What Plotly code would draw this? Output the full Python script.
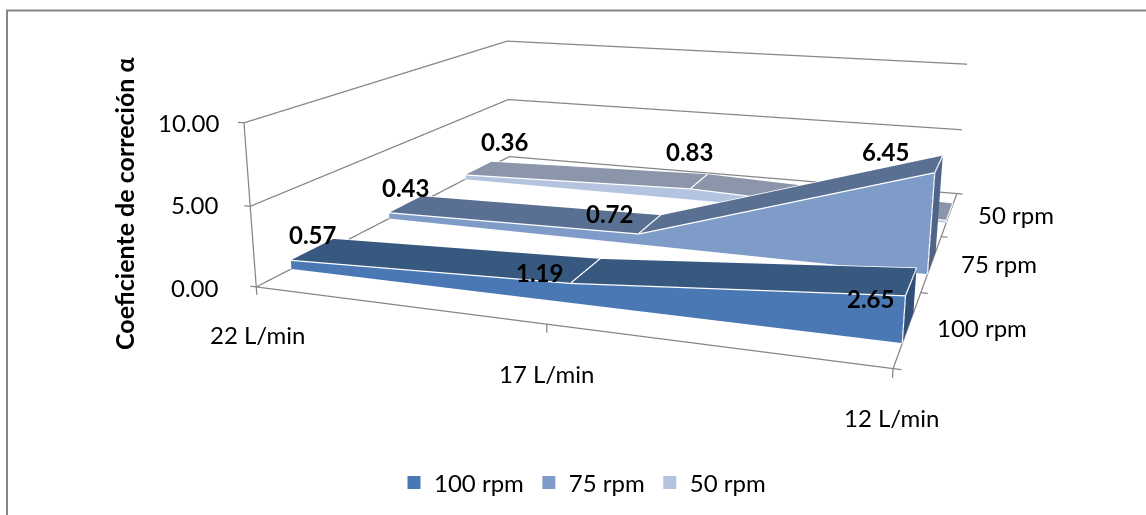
import plotly.graph_objects as go

# --- data ---
CATEGORIES = ["22 L/min", "17 L/min", "12 L/min"]
SERIES = ["100 rpm", "75 rpm", "50 rpm"]
VALUES_100 = [0.57, 1.19, 2.65]
VALUES_75 = [0.43, 0.72, 6.45]
VALUES_50 = [0.36, 0.83, 0.15]
LABELS_100 = ["0.57", "1.19", "2.65"]
LABELS_75 = ["0.43", "0.72", "6.45"]
LABELS_50 = ["0.36", "0.83", ""]
Z_TICKS = [0, 5, 10]
Z_TICK_LABELS = ["0.00", "5.00", "10.00"]
FRONT = ["#4a78b4", "#7f9cc9", "#b4c3df"]
TOP = ["#37587f", "#5a7092", "#8b96aa"]
SIDE = ["#2f4f78", "#4f6488", "#8b96aa"]

W, H, TOPOFF = 1196, 1056, 312
def px(x): return x / W
def py(y): return 1 - (y + TOPOFF) / H

GRID = "#868686"
FONT = "Lato"
fig = go.Figure()
half = 0.2
xs = list(range(len(CATEGORIES)))
all_vals = [VALUES_100, VALUES_75, VALUES_50]
all_labs = [LABELS_100, LABELS_75, LABELS_50]
LABEL_SHIFTS = [[(1, 15), (-47, -2), (-41, -17)], [(0, 17), (-41, 11), (-53, 12)], [(27, 27), (-10, 30), (0, 0)]]

# walls and axes
lx, ly, lz = [], [], []
def seg(a, b):
    lx.extend([a[0], b[0], None]); ly.extend([a[1], b[1], None]); lz.extend([a[2], b[2], None])
for z in Z_TICKS:
    seg((0, 0, z), (0, 3, z)); seg((0, 3, z), (2, 3, z)); seg((0, 0, z), (-0.022, 0, z))
seg((0, 0, 0), (0, 0, 10)); seg((0, 0, 0), (2, 0, 0)); seg((2, 0, 0), (2, 3, 0))
for i in xs:
    seg((i, 0, 0), (i, 0, -0.5))
for j in range(4):
    seg((2, j, 0), (2.022, j, 0))
fig.add_trace(go.Scatter3d(x=lx, y=ly, z=lz, mode="lines", line=dict(color=GRID, width=2.5), hoverinfo="skip", showlegend=False))

# area ribbons
for s, vals in enumerate(all_vals):
    y0, y1 = s + 0.5 - half, s + 0.5 + half
    X, Y, Z = [], [], []
    for i, v in zip(xs, vals):
        X += [i, i, i, i]; Y += [y0, y1, y0, y1]; Z += [0, 0, v, v]
    I, J, K, C = [], [], [], []
    def quad(a, b, c, d, col):
        I.extend([a, a]); J.extend([b, c]); K.extend([c, d]); C.extend([col, col])
    for i in xs[:-1]:
        n = 4 * i
        quad(n, n + 4, n + 6, n + 2, FRONT[s])
        quad(n + 2, n + 6, n + 7, n + 3, TOP[s])
    n = 4 * xs[-1]
    quad(n, n + 1, n + 3, n + 2, SIDE[s])
    quad(0, 1, 3, 2, SIDE[s])
    fig.add_trace(go.Mesh3d(x=X, y=Y, z=Z, i=I, j=J, k=K, facecolor=C, flatshading=True,
                            lighting=dict(ambient=1, diffuse=0, specular=0, fresnel=0, roughness=1),
                            hoverinfo="skip", showlegend=False, showscale=False))
    ex, ey, ez = [], [], []
    e = 0.004
    def edge(a, b):
        ex.extend([a[0], b[0], None]); ey.extend([a[1], b[1], None]); ez.extend([a[2], b[2], None])
    for i in xs[:-1]:
        edge((i, y0 - e, vals[i] + .01), (i + 1, y0 - e, vals[i + 1] + .01))
        edge((i, y1, vals[i] + .01), (i + 1, y1, vals[i + 1] + .01))
    edge((1, y0, vals[1] + .04), (1, y1, vals[1] + .04))
    edge((0, y0 - e, 0), (0, y0 - e, vals[0]))
    edge((0, y0, vals[0] + .01), (0, y1, vals[0] + .01))
    edge((2, y0 - e, 0), (2, y0 - e, vals[2]))
    edge((2, y0, vals[2] + .01), (2, y1, vals[2] + .01))
    fig.add_trace(go.Scatter3d(x=ex, y=ey, z=ez, mode="lines", line=dict(color="white", width=2.5), hoverinfo="skip", showlegend=False))

# legend
for name, col in zip(SERIES, FRONT):
    fig.add_trace(go.Scatter3d(x=[None], y=[None], z=[None], mode="markers", name=name,
                               marker=dict(symbol="square", size=13, color=col), hoverinfo="skip"))

# data labels anchored at the data
scene_ann = []
for s, (vals, labs) in enumerate(zip(all_vals, all_labs)):
    for i, (v, t) in enumerate(zip(vals, labs)):
        if t:
            sx, sy = LABEL_SHIFTS[s][i]
            scene_ann.append(dict(x=i, y=s + 0.5, z=v, text="<b>%s</b>" % t, showarrow=False, xanchor="center", yanchor="middle",
                                  xshift=sx, yshift=sy, font=dict(family=FONT, size=24, color="black")))

# tick labels
ann = []
def label(x, y, t, **k):
    ann.append(dict(x=px(x), y=py(y), xref="paper", yref="paper", text=t, showarrow=False,
                    font=dict(family=FONT, size=k.pop("size", 24), color="black"), **k))
for t, y in zip(Z_TICK_LABELS, [287, 205, 123]):
    label(221, y, t, xanchor="right", yanchor="middle")
for t, (x, y) in zip(CATEGORIES, [(257, 334), (546, 373), (892, 417)]):
    label(x, y, t, xanchor="center", yanchor="middle")
for t, (x, y) in zip(SERIES, [(982, 327), (999, 263), (1016, 214)]):
    label(x, y, t, xanchor="center", yanchor="middle")
label(124, 204, "<b>Coeficiente de correción α</b>", xanchor="center", yanchor="middle", textangle=-90, size=25)

frame = dict(type="rect", xref="paper", yref="paper", x0=px(7), x1=px(1300), y0=py(600), y1=py(10.5), line=dict(color=GRID, width=2), layer="below")

EYE = dict(x=0.6701, y=-2.1296, z=0.5175)
CENTER = dict(x=-1.1617, y=2.9283, z=-0.9677)
UP = dict(x=0.1681, y=-0.4651, z=1)
hidden = dict(visible=False)
fig.update_layout(
    width=W, height=H, margin=dict(l=0, r=0, t=0, b=0), paper_bgcolor="white", plot_bgcolor="white",
    font=dict(family=FONT, size=24, color="black"), shapes=[frame], annotations=ann,
    legend=dict(orientation="h", x=px(394), y=py(483), xanchor="left", yanchor="middle", font=dict(family=FONT, size=24), bgcolor="rgba(0,0,0,0)"),
    scene=dict(domain=dict(x=[0, 1], y=[0, 1]), aspectmode="manual",
               aspectratio=dict(x=1.1, y=1.0003 * 3.4 / 3, z=0.2663 * 1.2),
               xaxis=dict(range=[-0.1, 2.1], **hidden), yaxis=dict(range=[-0.2, 3.2], **hidden), zaxis=dict(range=[-1, 11], **hidden),
               camera=dict(eye=EYE, center=CENTER, up=UP), annotations=scene_ann),
)
POST = ("document.documentElement.style.overflow='hidden';document.body.style.margin='0';document.body.style.overflow='hidden';"
        "document.getElementById('{plot_id}').style.marginTop='-%dpx';" % TOPOFF)
fig.write_html("out.html", post_script=POST)
